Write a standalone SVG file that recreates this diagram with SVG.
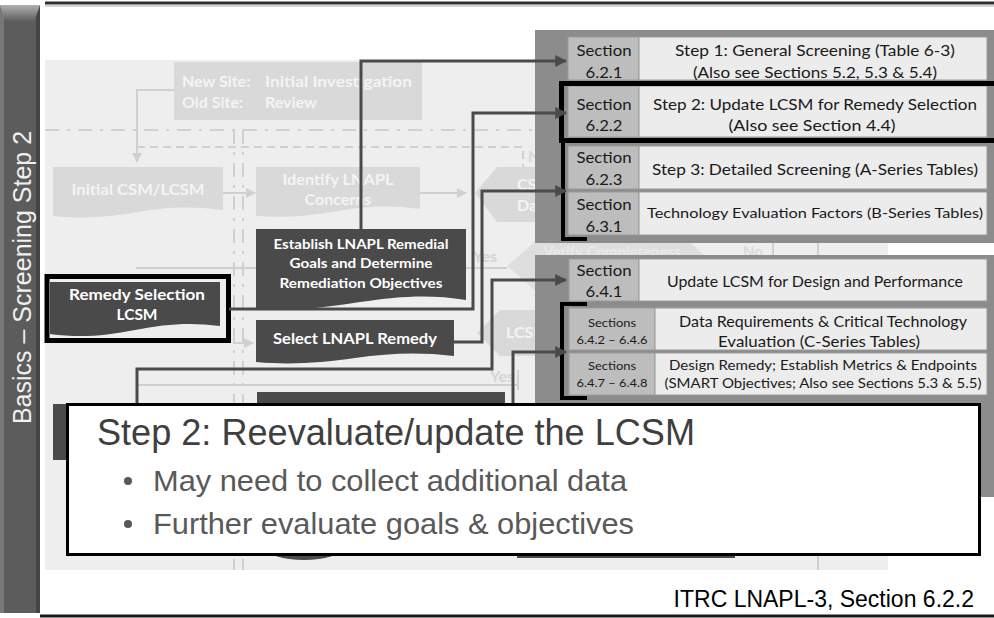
<svg xmlns="http://www.w3.org/2000/svg" width="994" height="618" viewBox="0 0 994 618">
<defs>
<style>
.cal{font-family:Lato,"Open Sans",sans-serif;}
.ar{font-family:"Liberation Sans",Arial,sans-serif;}
.sec{fill:#bdbdbd;stroke:#9a9a9a;stroke-width:1;}
.cell{fill:#ececec;stroke:#9a9a9a;stroke-width:1;}
.t16{font-size:16px;fill:#1a1a1a;text-anchor:middle;}
.t14{font-size:14px;fill:#1a1a1a;text-anchor:middle;}
.t12{font-size:12px;fill:#1a1a1a;text-anchor:middle;}
.dark{fill:#4a4a4a;}
.wb{fill:#ffffff;font-weight:700;text-anchor:middle;}
.fade{fill:#d9d9d9;}
.ft{fill:#f4f4f4;font-weight:700;font-size:16px;}
.fl{stroke:#d0d0d0;stroke-width:2;fill:none;}
.conn{stroke:#4a4a4a;stroke-width:3;fill:none;}
.blk{stroke:#000;fill:none;}
</style>
<marker id="ah" viewBox="0 0 10 10" refX="9" refY="5" markerWidth="12" markerHeight="12" markerUnits="userSpaceOnUse" orient="auto"><path d="M0,0 L10,5 L0,10 z" fill="#4a4a4a"/></marker>
<marker id="fa" viewBox="0 0 10 10" refX="9" refY="5" markerWidth="10" markerHeight="10" markerUnits="userSpaceOnUse" orient="auto"><path d="M0,0 L10,5 L0,10 z" fill="#d0d0d0"/></marker>
<linearGradient id="bev" x1="0" y1="0" x2="0" y2="1"><stop offset="0" stop-color="#b0b0b0"/><stop offset="1" stop-color="#5a5a5a"/></linearGradient>
</defs>
<rect width="994" height="618" fill="#ffffff"/>

<!-- left bar -->
<g id="sidebar">
<rect x="0" y="5" width="40" height="608" fill="#5c5c5c"/>
<rect x="0" y="5" width="4" height="608" fill="#787878"/>
<rect x="36" y="5" width="4" height="608" fill="#454545"/>
<polygon points="0,5 40,5 34,22 5,22" fill="url(#bev)"/>
<text class="ar" transform="translate(31,277.5) rotate(-90)" font-size="25" fill="#f0f0f0" text-anchor="middle">Basics – Screening Step 2</text>
</g>

<!-- frame lines -->
<line x1="45" y1="3" x2="994" y2="3" stroke="#2e2e2e" stroke-width="3"/>
<line x1="45" y1="6" x2="994" y2="6" stroke="#aaaaaa" stroke-width="1"/>
<line x1="40" y1="616" x2="994" y2="616" stroke="#1a1a1a" stroke-width="3"/>

<!-- faded flowchart background -->
<g id="faded">
<rect x="45" y="60" width="843" height="510" fill="#eeeeee"/>
<line x1="45" y1="130" x2="535" y2="130" class="fl" stroke-dasharray="14 8 3 8"/>
<line x1="234" y1="130" x2="234" y2="570" class="fl" stroke-dasharray="14 8 3 8"/>
<line x1="243" y1="130" x2="243" y2="570" class="fl" stroke-dasharray="14 8 3 8"/>
<path d="M137,147 H523 V170" class="fl" stroke-dasharray="8 5"/>
<line x1="818" y1="500" x2="818" y2="570" class="fl"/>
<line x1="773" y1="237" x2="773" y2="258" class="fl"/>
<line x1="818" y1="237" x2="818" y2="258" class="fl"/>
<g id="newsite">
<rect x="174" y="62" width="248" height="58" class="fade"/>
<text class="cal ft" x="182" y="87">New Site:</text>
<text class="cal ft" x="265" y="87" textLength="147" lengthAdjust="spacingAndGlyphs">Initial Investigation</text>
<text class="cal ft" x="182" y="108">Old Site:</text>
<text class="cal ft" x="265" y="108">Review</text>
</g>
<path d="M174,90 H137 V162" class="fl" marker-end="url(#fa)"/>
<g id="initialcsm">
<path d="M53,167 H223 V210 C190,206 165,207 138,212 C110,217 85,219 53,216 Z" class="fade"/>
<text class="cal ft" x="138" y="195" text-anchor="middle" textLength="133" lengthAdjust="spacingAndGlyphs">Initial CSM/LCSM</text>
</g>
<line x1="223" y1="193" x2="255" y2="193" class="fl" marker-end="url(#fa)"/>
<g id="identify">
<path d="M256,167 H420 V209 C390,205 365,206 338,211 C310,216 285,218 256,216 Z" class="fade"/>
<text class="cal ft" x="338" y="185" text-anchor="middle" textLength="111" lengthAdjust="spacingAndGlyphs">Identify LNAPL</text>
<text class="cal ft" x="338" y="205" text-anchor="middle">Concerns</text>
</g>
<line x1="420" y1="193" x2="466" y2="193" class="fl" marker-end="url(#fa)"/>
<polygon points="475,193 497,167 560,167 560,222 497,222" class="fade"/>
<text class="cal ft" x="517" y="190">CSM</text>
<text class="cal ft" x="517" y="211">Data</text>
<text class="cal" x="528" y="162" font-size="16" font-weight="700" fill="#d8d8d8">No</text>
<line x1="136" y1="268" x2="507" y2="268" class="fl"/>
<polygon points="507,266 537,240 687,240 717,266 687,292 537,292" fill="#dedede"/>
<text class="cal" x="612" y="257" font-size="15" font-weight="700" fill="#e9e9e9" text-anchor="middle">Verify Completeness</text>
<text class="cal" x="743" y="257" font-size="15" font-weight="700" fill="#dcdcdc">No</text>
<text class="cal" x="473" y="262" font-size="16" font-weight="700" fill="#d4d4d4">Yes</text>
<polygon points="477,333 500,310 560,310 560,356 500,356" class="fade"/>
<text class="cal ft" x="506" y="338">LCSM</text>
<line x1="233" y1="343" x2="253" y2="343" class="fl" marker-end="url(#fa)"/>
<line x1="137" y1="385" x2="518" y2="385" class="fl"/>
<line x1="518" y1="370" x2="518" y2="390" class="fl"/>
<text class="cal" x="490" y="382" font-size="16" font-weight="700" fill="#d4d4d4">Yes</text>
<rect x="257" y="392" width="248" height="40" class="dark"/>
<rect x="53" y="404" width="40" height="56" class="dark"/>
<ellipse cx="304" cy="548" rx="38" ry="12" class="dark"/>
<rect x="517" y="540" width="218" height="18" class="dark"/>
</g>

<!-- dark flowchart nodes -->
<g id="establish">
<path d="M256,229 H466 V300 C430,294 400,296 360,302 C320,308 290,312 256,309 Z" class="dark"/>
<text class="cal wb" x="361" y="249" font-size="14" textLength="175" lengthAdjust="spacingAndGlyphs">Establish LNAPL Remedial</text>
<text class="cal wb" x="361" y="268" font-size="14" textLength="143" lengthAdjust="spacingAndGlyphs">Goals and Determine</text>
<text class="cal wb" x="361" y="288" font-size="14" textLength="163" lengthAdjust="spacingAndGlyphs">Remediation Objectives</text>
</g>
<g id="remedyselection">
<path d="M50,282 H220 V326 C190,322 165,324 135,330 C105,336 80,338 50,334 Z" class="dark"/>
<text class="cal wb" x="137" y="300" font-size="16" textLength="136" lengthAdjust="spacingAndGlyphs">Remedy Selection</text>
<text class="cal wb" x="137" y="320" font-size="16" textLength="41" lengthAdjust="spacingAndGlyphs">LCSM</text>
<rect x="47" y="276.5" width="181.5" height="64" class="blk" stroke-width="5"/>
</g>
<g id="selectremedy">
<path d="M256,320 H454 V356 C420,352 390,353 355,358 C320,363 290,365 256,362 Z" class="dark"/>
<text class="cal wb" x="355" y="344" font-size="15" textLength="164" lengthAdjust="spacingAndGlyphs">Select LNAPL Remedy</text>
</g>

<!-- right panels -->
<rect x="535" y="30" width="459" height="213" fill="#8c8c8c"/>
<rect x="535" y="255" width="459" height="242" fill="#8c8c8c"/>

<g id="row1">
<rect x="568" y="37" width="71" height="43" class="sec"/>
<rect x="639" y="37" width="348" height="43" class="cell"/>
<text class="cal t16" x="604" y="56" textLength="55" lengthAdjust="spacingAndGlyphs">Section</text>
<text class="cal t16" x="604" y="78" textLength="37" lengthAdjust="spacingAndGlyphs">6.2.1</text>
<text class="cal t16" x="815" y="56" textLength="280" lengthAdjust="spacingAndGlyphs">Step 1: General Screening (Table 6-3)</text>
<text class="cal t16" x="815" y="78" textLength="244" lengthAdjust="spacingAndGlyphs">(Also see Sections 5.2, 5.3 &amp; 5.4)</text>
</g>
<g id="row2">
<rect x="568" y="86" width="71" height="51" class="sec"/>
<rect x="639" y="86" width="348" height="51" class="cell"/>
<text class="cal t16" x="604" y="110" textLength="55" lengthAdjust="spacingAndGlyphs">Section</text>
<text class="cal t16" x="604" y="131" textLength="37" lengthAdjust="spacingAndGlyphs">6.2.2</text>
<text class="cal t16" x="815" y="110" textLength="324" lengthAdjust="spacingAndGlyphs">Step 2: Update LCSM for Remedy Selection</text>
<text class="cal t16" x="812" y="131" textLength="167" lengthAdjust="spacingAndGlyphs">(Also see Section 4.4)</text>
</g>
<g id="row3">
<rect x="568" y="146" width="71" height="43" class="sec"/>
<rect x="639" y="146" width="348" height="43" class="cell"/>
<text class="cal t16" x="604" y="163" textLength="55" lengthAdjust="spacingAndGlyphs">Section</text>
<text class="cal t16" x="604" y="185" textLength="37" lengthAdjust="spacingAndGlyphs">6.2.3</text>
<text class="cal t16" x="815" y="175" textLength="326" lengthAdjust="spacingAndGlyphs">Step 3: Detailed Screening (A-Series Tables)</text>
</g>
<g id="row4">
<rect x="568" y="192" width="71" height="43" class="sec"/>
<rect x="639" y="192" width="348" height="43" class="cell"/>
<text class="cal t16" x="604" y="210" textLength="55" lengthAdjust="spacingAndGlyphs">Section</text>
<text class="cal t16" x="604" y="232" textLength="37" lengthAdjust="spacingAndGlyphs">6.3.1</text>
<text class="cal t14" x="815" y="218" textLength="336" lengthAdjust="spacingAndGlyphs">Technology Evaluation Factors (B-Series Tables)</text>
</g>
<g id="row5">
<rect x="569" y="259" width="70" height="42" class="sec"/>
<rect x="639" y="259" width="348" height="42" class="cell"/>
<text class="cal t16" x="604" y="276" textLength="55" lengthAdjust="spacingAndGlyphs">Section</text>
<text class="cal t16" x="604" y="297" textLength="37" lengthAdjust="spacingAndGlyphs">6.4.1</text>
<text class="cal t16" x="815" y="287" textLength="296" lengthAdjust="spacingAndGlyphs">Update LCSM for Design and Performance</text>
</g>
<g id="row6">
<rect x="569" y="308" width="86" height="42" class="sec"/>
<rect x="655" y="308" width="332" height="42" class="cell"/>
<text class="cal t12" x="612" y="327" textLength="48" lengthAdjust="spacingAndGlyphs">Sections</text>
<text class="cal t12" x="612" y="344" textLength="71" lengthAdjust="spacingAndGlyphs">6.4.2 – 6.4.6</text>
<text class="cal t16" x="823" y="327" textLength="288" lengthAdjust="spacingAndGlyphs">Data Requirements &amp; Critical Technology</text>
<text class="cal t16" x="819" y="347" textLength="202" lengthAdjust="spacingAndGlyphs">Evaluation (C-Series Tables)</text>
</g>
<g id="row7">
<rect x="569" y="353" width="86" height="42" class="sec"/>
<rect x="655" y="353" width="332" height="42" class="cell"/>
<text class="cal t12" x="612" y="370" textLength="48" lengthAdjust="spacingAndGlyphs">Sections</text>
<text class="cal t12" x="612" y="387" textLength="71" lengthAdjust="spacingAndGlyphs">6.4.7 – 6.4.8</text>
<text class="cal t14" x="823" y="370" textLength="308" lengthAdjust="spacingAndGlyphs">Design Remedy; Establish Metrics &amp; Endpoints</text>
<text class="cal t14" x="823" y="388" textLength="317" lengthAdjust="spacingAndGlyphs">(SMART Objectives; Also see Sections 5.3 &amp; 5.5)</text>
</g>

<!-- highlight and brackets -->
<g id="highlight">
<rect x="561.5" y="83.5" width="440" height="57" class="blk" stroke-width="5"/>
<path d="M563,140 V239 H587" class="blk" stroke-width="4"/>
<path d="M587,304 H562 V398 H587" class="blk" stroke-width="4"/>
</g>

<!-- connectors -->
<g id="connectors">
<path d="M361,229 V61 H566" class="conn" marker-end="url(#ah)"/>
<path d="M229,309 H473 V113 H566" class="conn" marker-end="url(#ah)"/>
<path d="M454,342 H482 V191 H566" class="conn" marker-end="url(#ah)"/>
<path d="M137,404 V369 H492 V280 H566" class="conn" marker-end="url(#ah)"/>
<path d="M513,404 V352 H566" class="conn" marker-end="url(#ah)"/>
</g>

<!-- callout -->
<g id="callout">
<rect x="67.5" y="404.5" width="912" height="150" fill="#ffffff" stroke="#000" stroke-width="3"/>
<text class="ar" x="97" y="445" font-size="36" fill="#3f3f3f" textLength="598" lengthAdjust="spacingAndGlyphs">Step 2: Reevaluate/update the LCSM</text>
<circle cx="128" cy="481" r="4" fill="#595959"/>
<text class="ar" x="153" y="491" font-size="30" fill="#595959" textLength="474" lengthAdjust="spacingAndGlyphs">May need to collect additional data</text>
<circle cx="128" cy="524" r="4" fill="#595959"/>
<text class="ar" x="153" y="534" font-size="30" fill="#595959" textLength="481" lengthAdjust="spacingAndGlyphs">Further evaluate goals &amp; objectives</text>
</g>

<text id="footer" class="ar" x="974" y="607" font-size="23" fill="#000" text-anchor="end">ITRC LNAPL-3, Section 6.2.2</text>
</svg>
